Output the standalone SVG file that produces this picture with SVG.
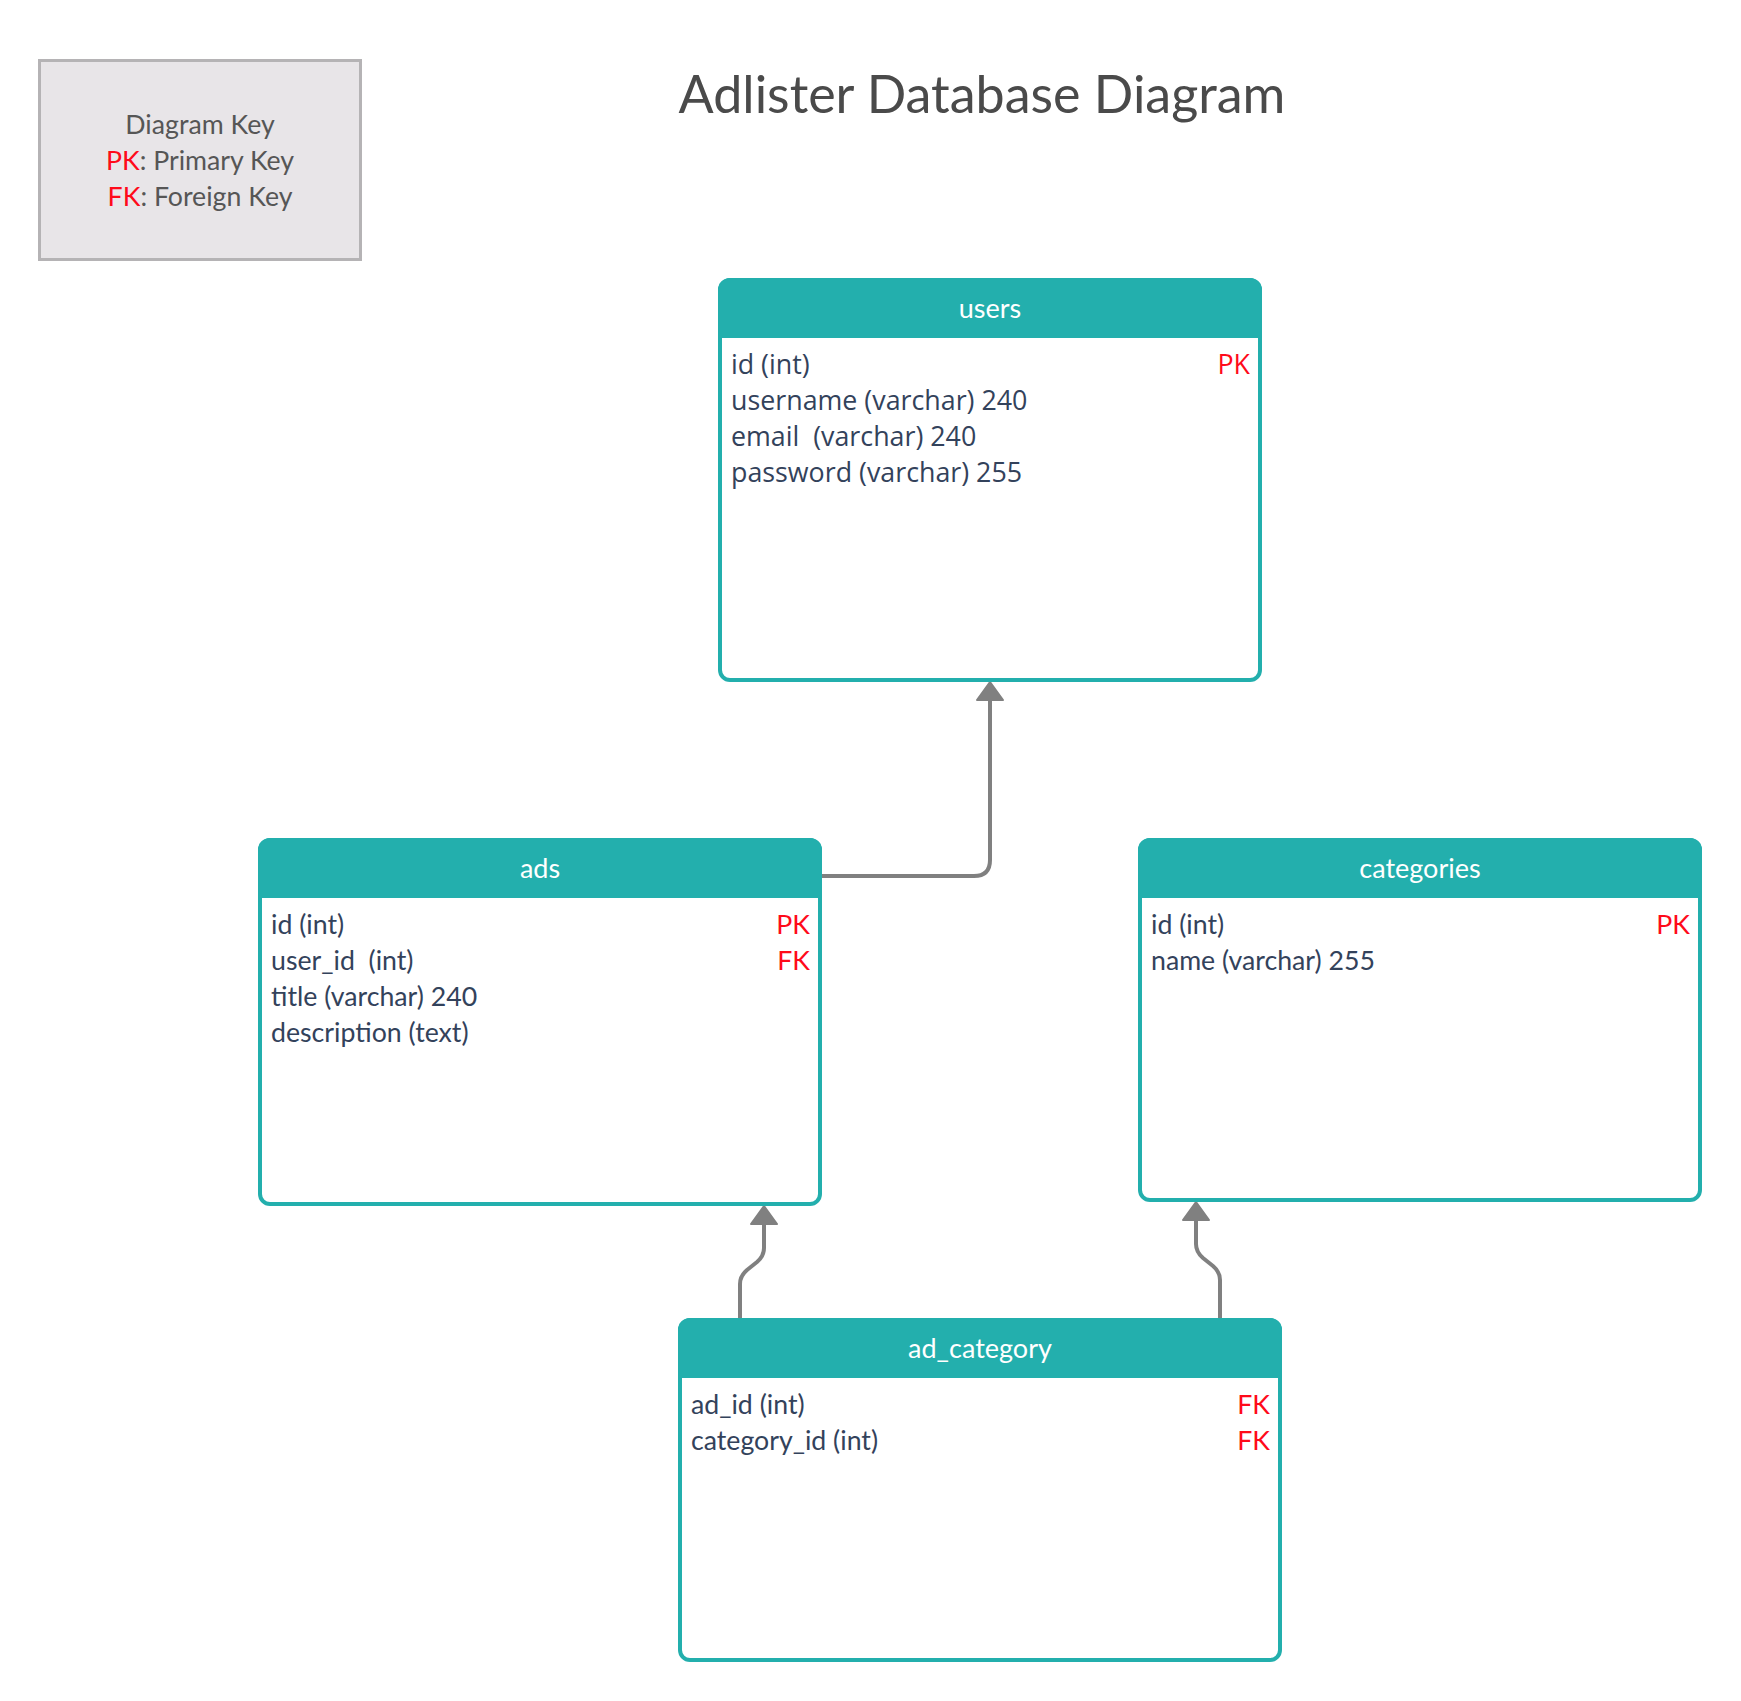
<svg xmlns="http://www.w3.org/2000/svg" width="1741" height="1701" viewBox="0 0 1741 1701">
<defs>
<style>
.box{fill:#ffffff;stroke:#23afad;stroke-width:4}
.hdr{fill:#23afad}
.htxt{font-family:Lato,'Liberation Sans',sans-serif;font-size:27px;fill:#ffffff;text-anchor:middle}
.row{font-family:Lato,'Liberation Sans',sans-serif;font-size:26.7px;fill:#33425b}
.key{font-family:Lato,'Liberation Sans',sans-serif;font-size:26.7px;fill:#ff0a1a;text-anchor:end}
.os{font-family:'Open Sans','Liberation Sans',sans-serif;font-size:26.8px}
.leg{font-family:Lato,'Liberation Sans',sans-serif;font-size:26.7px;fill:#565656;text-anchor:middle}
.red{fill:#ff0a1a}
.conn{fill:none;stroke:#808080;stroke-width:4;stroke-linecap:round;stroke-linejoin:round;marker-end:url(#arr)}
</style>
<marker id="arr" markerUnits="userSpaceOnUse" markerWidth="24" markerHeight="30" viewBox="-2 -2 24 30" refX="0" refY="13" orient="auto">
<path d="M0,0 L18,13 L0,26 Z" fill="#808080" stroke="#808080" stroke-width="2" stroke-linejoin="round"/>
</marker>
</defs>
<rect width="1741" height="1701" fill="#ffffff"/>

<g id="legend">
<rect x="39.5" y="60.5" width="321" height="199" fill="#e8e5e8" stroke="#b5b3b5" stroke-width="3"/>
<text class="leg" x="200" y="134">Diagram Key</text>
<text class="leg" x="200" y="170"><tspan class="red">PK</tspan>: Primary Key</text>
<text class="leg" x="200" y="206"><tspan class="red">FK</tspan>: Foreign Key</text>
</g>

<g id="title">
<text x="982" y="113" font-family="Lato,'Liberation Sans',sans-serif" font-size="52" fill="#4a4a4a" text-anchor="middle">Adlister Database Diagram</text>
</g>

<g id="connectors">
<path class="conn" d="M819,876 H974 Q990,876 990,860 V700"/>
<path class="conn" d="M740,1320 V1284 Q740,1276 747,1270 L757,1262 Q764,1256 764,1248 V1224"/>
<path class="conn" d="M1220,1320 V1280 Q1220,1272 1213,1266 L1203,1258 Q1196,1252 1196,1244 V1220"/>
</g>

<g id="users">
<rect class="box" x="720" y="280" width="540" height="400" rx="10"/>
<path class="hdr" d="M718,338 V290 A12,12 0 0 1 730,278 H1250 A12,12 0 0 1 1262,290 V338 Z"/>
<text class="htxt" x="990" y="318">users</text>
<text class="row os" x="731" y="374">id (int)</text>
<text class="key os" x="1250" y="374">PK</text>
<text class="row os" x="731" y="410">username (varchar) 240</text>
<text class="row os" x="731" y="446" xml:space="preserve">email  (varchar) 240</text>
<text class="row os" x="731" y="482">password (varchar) 255</text>
</g>

<g id="ads">
<rect class="box" x="260" y="840" width="560" height="364" rx="10"/>
<path class="hdr" d="M258,898 V850 A12,12 0 0 1 270,838 H810 A12,12 0 0 1 822,850 V898 Z"/>
<text class="htxt" x="540" y="878">ads</text>
<text class="row" x="271" y="934">id (int)</text>
<text class="key" x="810" y="934">PK</text>
<text class="row" x="271" y="970" xml:space="preserve">user_id  (int)</text>
<text class="key" x="810" y="970">FK</text>
<text class="row" x="271" y="1006">title (varchar) 240</text>
<text class="row" x="271" y="1042">description (text)</text>
</g>

<g id="categories">
<rect class="box" x="1140" y="840" width="560" height="360" rx="10"/>
<path class="hdr" d="M1138,898 V850 A12,12 0 0 1 1150,838 H1690 A12,12 0 0 1 1702,850 V898 Z"/>
<text class="htxt" x="1420" y="878">categories</text>
<text class="row" x="1151" y="934">id (int)</text>
<text class="key" x="1690" y="934">PK</text>
<text class="row" x="1151" y="970">name (varchar) 255</text>
</g>

<g id="ad_category">
<rect class="box" x="680" y="1320" width="600" height="340" rx="10"/>
<path class="hdr" d="M678,1378 V1330 A12,12 0 0 1 690,1318 H1270 A12,12 0 0 1 1282,1330 V1378 Z"/>
<text class="htxt" x="980" y="1358">ad_category</text>
<text class="row" x="691" y="1414">ad_id (int)</text>
<text class="key" x="1270" y="1414">FK</text>
<text class="row" x="691" y="1450">category_id (int)</text>
<text class="key" x="1270" y="1450">FK</text>
</g>
</svg>
